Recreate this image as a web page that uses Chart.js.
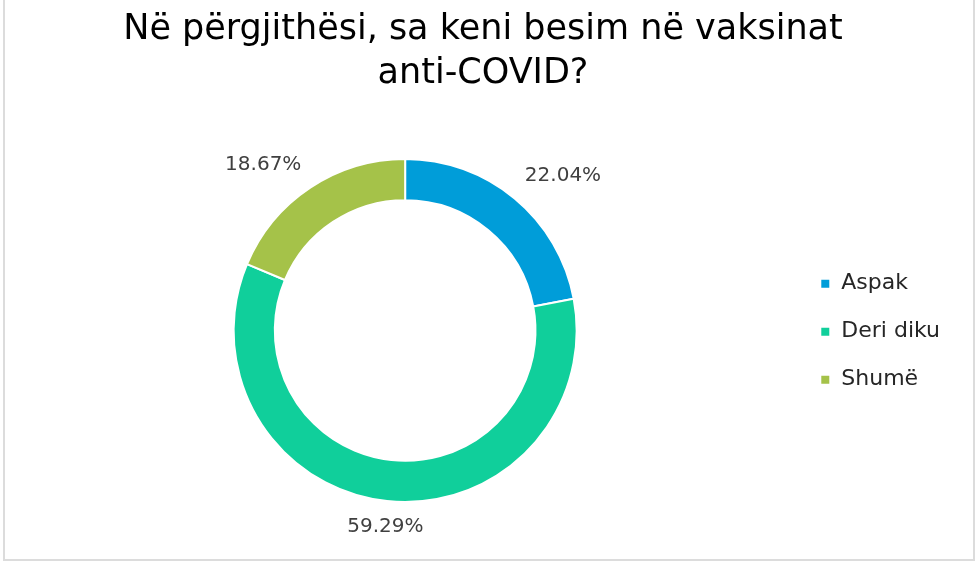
<!DOCTYPE html>
<html>
<head>
<meta charset="utf-8">
<script src="https://cdn.jsdelivr.net/npm/chart.js@4/dist/chart.umd.min.js"></script>
<style>
  html, body { margin: 0; padding: 0; background: #fff; }
  #wrap { position: relative; width: 980px; height: 568px; overflow: hidden; }
  #frame { position: absolute; left: 3px; top: -10px; width: 972px; height: 571px; border: 2px solid #dcdcdc; box-sizing: border-box; }
  #chart { position: absolute; left: 0; top: 0; }
</style>
</head>
<body>
<div id="wrap">
  <div id="frame"></div>
  <canvas id="chart" width="980" height="568"></canvas>
</div>
<script>
// titulli dhe të dhënat
const titulli = ['Në përgjithësi, sa keni besim në vaksinat', 'anti-COVID?'];
const kategorite = ['Aspak', 'Deri diku', 'Shumë'];
const perqindjet = [22.04, 59.29, 18.67];
const ngjyrat = ['#009dd9', '#10cf9b', '#a5c249'];

const FONT = "'DejaVu Sans', sans-serif";

// etiketat e përqindjeve jashtë unazës
const etiketat = {
  id: 'etiketat',
  afterDatasetsDraw(chart) {
    const ctx = chart.ctx;
    const meta = chart.getDatasetMeta(0);
    ctx.save();
    ctx.font = '20px ' + FONT;
    ctx.fillStyle = '#404040';
    ctx.textBaseline = 'middle';
    ctx.textAlign = 'center';
    meta.data.forEach((arc, i) => {
      const p = arc.getProps(['x', 'y', 'startAngle', 'endAngle', 'outerRadius'], true);
      const mes = (p.startAngle + p.endAngle) / 2;
      const r = p.outerRadius + 16;
      const sin = Math.sin(mes), cos = Math.cos(mes);
      const txt = perqindjet[i].toFixed(2) + '%';
      const w = ctx.measureText(txt).width;
      let x = p.x + r * cos;
      let y = p.y + r * sin;
      if (Math.abs(cos) > 0.3) x += Math.sign(cos) * w / 2;
      if (Math.abs(sin) > 0.7) y += Math.sign(sin) * 10;
      ctx.fillText(txt, x, y);
    });
    ctx.restore();
  }
};

new Chart(document.getElementById('chart'), {
  type: 'doughnut',
  data: {
    labels: kategorite,
    datasets: [{
      data: perqindjet,
      backgroundColor: ngjyrat,
      borderColor: '#ffffff',
      borderWidth: 2
    }]
  },
  options: {
    responsive: false,
    animation: false,
    cutout: '76%',
    layout: { padding: { left: 16, right: 30, top: 0, bottom: 65 } },
    plugins: {
      title: {
        display: true,
        text: titulli,
        color: '#000000',
        font: { family: FONT, size: 35, weight: 'normal', lineHeight: 1.257 },
        padding: { top: 8, bottom: 62 }
      },
      legend: {
        position: 'right',
        title: { display: true, text: ' ', font: { size: 12 }, padding: { top: 146, bottom: 0 } },
        labels: {
          boxWidth: 10,
          boxHeight: 10,
          padding: 26,
          color: '#262626',
          font: { family: FONT, size: 22 }
        }
      },
      tooltip: { enabled: false }
    }
  },
  plugins: [etiketat]
});
</script>
</body>
</html>
